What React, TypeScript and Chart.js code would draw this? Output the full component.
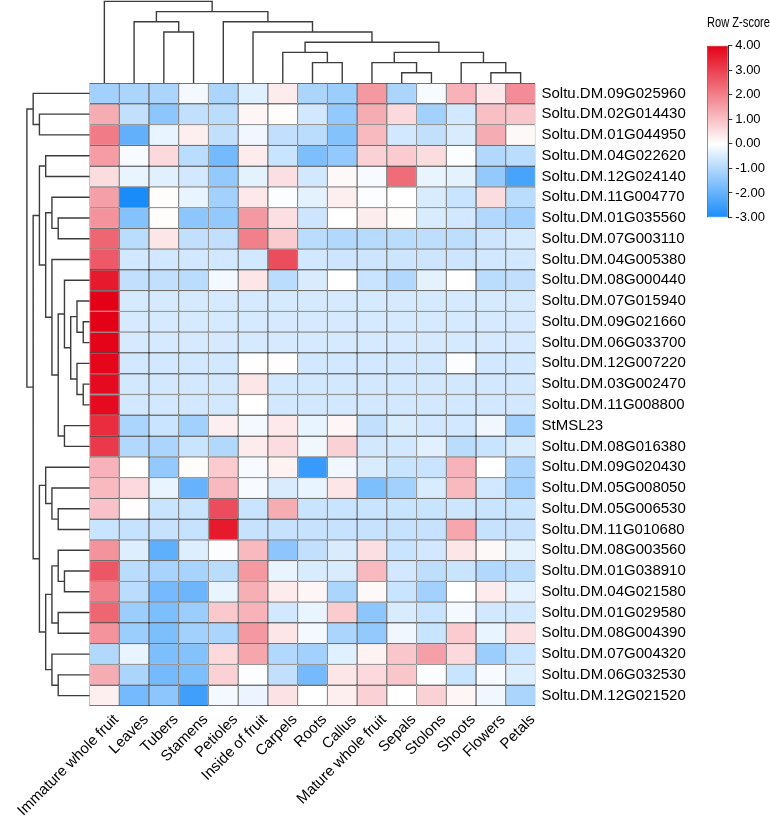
import React, { useEffect, useRef } from 'react';
import { Chart, registerables } from 'chart.js';

Chart.register(...registerables);

// ---------------- data ----------------
const colLabels = [
  'Immature whole fruit', 'Leaves', 'Tubers', 'Stamens', 'Petioles', 'Inside of fruit', 'Carpels',
  'Roots', 'Callus', 'Mature whole fruit', 'Sepals', 'Stolons', 'Shoots', 'Flowers', 'Petals',
];

const rowLabels = [
  'Soltu.DM.09G025960', 'Soltu.DM.02G014430', 'Soltu.DM.01G044950', 'Soltu.DM.04G022620',
  'Soltu.DM.12G024140', 'Soltu.DM.11G004770', 'Soltu.DM.01G035560', 'Soltu.DM.07G003110',
  'Soltu.DM.04G005380', 'Soltu.DM.08G000440', 'Soltu.DM.07G015940', 'Soltu.DM.09G021660',
  'Soltu.DM.06G033700', 'Soltu.DM.12G007220', 'Soltu.DM.03G002470', 'Soltu.DM.11G008800',
  'StMSL23', 'Soltu.DM.08G016380', 'Soltu.DM.09G020430', 'Soltu.DM.05G008050',
  'Soltu.DM.05G006530', 'Soltu.DM.11G010680', 'Soltu.DM.08G003560', 'Soltu.DM.01G038910',
  'Soltu.DM.04G021580', 'Soltu.DM.01G029580', 'Soltu.DM.08G004390', 'Soltu.DM.07G004320',
  'Soltu.DM.06G032530', 'Soltu.DM.12G021520',
];

// Row Z-scores, one row per gene, columns in the order of colLabels
const zRows: number[][] = [
  [-1.2, -1.1, -1.1, -0.15, -1.1, -0.4, 0.3, -1.1, -1.3, 1.6, -1.1, -0.1, 1.2, 0.35, 1.8],
  [1.3, -0.8, -1.5, -0.8, -0.9, 0.15, 0.05, -0.6, -1.4, 1.3, 0.6, -1.2, -0.6, 1.0, 0.9],
  [2.05, -2.05, -0.3, 0.25, -0.8, -0.2, -0.8, -0.9, -1.6, 1.1, -0.6, -0.8, -0.5, 1.3, 0.1],
  [1.55, -0.1, 0.6, -0.9, -1.8, 0.3, -0.7, -1.7, -1.4, 0.7, 0.8, 0.55, -0.05, -1.0, -0.9],
  [0.55, -0.3, -0.4, -0.6, -1.4, -0.35, 0.5, -0.6, 0.1, -0.1, 2.3, -0.3, -0.35, -1.4, -2.4],
  [1.5, -3.0, 0.05, -0.3, -1.2, 0.35, -0.05, -0.35, 0.25, -0.05, 0.0, -0.5, -0.7, 0.55, -0.9],
  [1.7, -1.6, 0.05, -1.5, -1.4, 1.6, 0.5, -0.65, 0.0, 0.3, 0.05, -0.5, -0.6, -1.0, -1.2],
  [2.4, -0.9, 0.4, -0.8, -0.8, 2.0, 0.8, -0.9, -1.0, -0.95, -0.9, -0.85, -0.85, -0.65, -0.55],
  [2.6, -0.6, -0.6, -0.6, -0.6, -0.6, 2.8, -0.6, -0.65, -0.65, -0.65, -0.65, -0.65, -0.6, -0.6],
  [3.6, -0.8, -0.8, -0.9, -0.15, 0.4, -0.9, -0.5, 0.0, -0.7, -1.0, -0.35, 0.0, -0.9, -0.8],
  [4.0, -0.55, -0.55, -0.55, -0.55, -0.55, -0.55, -0.55, -0.55, -0.55, -0.55, -0.55, -0.55, -0.55, -0.55],
  [4.0, -0.55, -0.55, -0.55, -0.55, -0.55, -0.55, -0.55, -0.55, -0.55, -0.55, -0.55, -0.55, -0.55, -0.55],
  [3.95, -0.55, -0.55, -0.55, -0.55, -0.55, -0.55, -0.55, -0.55, -0.55, -0.55, -0.55, -0.55, -0.55, -0.55],
  [3.9, -0.6, -0.6, -0.6, -0.6, 0.02, 0.03, -0.6, -0.6, -0.6, -0.6, -0.6, -0.05, -0.6, -0.6],
  [3.85, -0.6, -0.6, -0.6, -0.6, 0.4, -0.6, -0.6, -0.6, -0.6, -0.6, -0.6, -0.6, -0.6, -0.6],
  [3.85, -0.6, -0.6, -0.6, -0.6, 0.0, -0.6, -0.6, -0.6, -0.6, -0.6, -0.6, -0.6, -0.6, -0.6],
  [3.3, -1.1, -0.7, -1.2, 0.25, -0.15, 0.35, -0.3, 0.15, -0.8, -0.5, -0.6, -0.6, -0.2, -1.2],
  [3.1, -1.0, -1.1, -0.7, -1.0, 0.3, 0.55, -0.2, 0.7, -0.6, -0.6, -0.4, -0.9, -0.7, -0.5],
  [1.2, 0.0, -1.4, 0.05, 0.8, -0.1, 0.2, -2.6, -0.2, -0.5, -0.7, -0.7, 1.2, 0.0, -1.1],
  [1.1, 0.6, -0.3, -2.0, 1.1, -0.1, -0.5, -0.3, 0.4, -1.7, -1.2, -0.5, 1.1, -0.6, -1.2],
  [0.95, 0.03, -0.7, -0.7, 2.8, -0.7, 1.3, -0.7, -0.7, -0.7, -0.7, -0.7, -0.65, -0.7, -0.7],
  [-0.7, -0.75, -0.75, -0.75, 3.6, -0.75, -0.75, -0.75, -0.75, -0.75, -0.75, -0.75, 1.4, -0.75, -0.75],
  [1.7, -0.45, -2.1, -0.45, -0.05, 1.1, -1.5, -0.8, -0.5, 0.5, -0.7, -0.6, 0.4, 0.1, -0.35],
  [2.65, -0.9, -1.15, -1.15, -0.9, 1.6, -0.3, -0.5, -0.5, 1.1, -0.6, -0.85, -0.7, -1.0, -0.9],
  [2.0, -0.9, -1.8, -1.9, -0.3, 1.25, 0.3, 0.15, -1.1, 0.1, -0.7, -1.2, 0.0, 0.3, -0.35],
  [2.4, -1.3, -1.7, -1.3, 0.85, 1.2, -0.6, -0.3, 0.8, -1.5, -0.5, -0.7, -0.15, -0.6, -0.6],
  [1.7, -1.3, -1.7, -1.2, -1.1, 1.6, 0.4, -0.15, -1.1, -1.4, -0.2, -0.7, 0.8, -0.3, 0.5],
  [-1.0, -0.3, -1.7, -1.6, 0.6, 1.4, -1.0, -1.2, -0.4, 0.2, 0.9, 1.5, 0.6, -1.3, -0.7],
  [1.3, -1.1, -1.8, -1.7, 0.7, -0.05, -0.8, -1.8, 0.4, 0.6, 0.9, -0.05, -0.7, -0.1, -0.45],
  [0.25, -1.8, -1.5, -2.5, -0.15, -0.25, 0.45, 0.0, 0.25, 0.7, 0.0, 0.7, 0.15, -0.2, -1.1],
];

// Column dendrogram: [childA, childB, level]; leaves 0..14, new clusters numbered from 15
const colMerges: [number, number, number][] = [
  [13, 14, 1], [10, 11, 1], [12, 15, 2], [9, 16, 2], [7, 8, 2], [6, 19, 3], [18, 17, 3],
  [20, 21, 4], [5, 22, 5], [2, 3, 5], [4, 23, 6], [1, 24, 6], [26, 25, 7], [0, 27, 8],
];

// Row dendrogram: [childA, childB, level]; leaves 0..29, new clusters numbered from 30
const rowMerges: [number, number, number][] = [
  [11, 12, 1], [14, 15, 1], [10, 30, 2], [13, 31, 2], [32, 33, 3], [9, 34, 4], [16, 17, 4],
  [35, 36, 5], [8, 37, 6], [6, 7, 5], [5, 39, 6], [40, 38, 7], [3, 4, 7], [42, 41, 8],
  [20, 21, 5], [19, 44, 6], [18, 45, 7], [23, 24, 4], [22, 47, 5], [25, 26, 5], [48, 49, 6],
  [28, 29, 5], [27, 51, 6], [50, 52, 7], [46, 53, 8], [43, 54, 9], [1, 2, 8], [0, 56, 9],
  [57, 55, 10],
];

const zMin = -3;
const zMax = 4;
const colorbarStep = 1;

// ---------------- style / layout ----------------
const W = 770;
const H = 824;
const HM = { left: 89.5, right: 535.5, top: 83, bottom: 706 };
const AREA_LEFT = 16;
const AREA_TOP = 0;
const LEFT_LEVEL_PX = 6.26;
const TOP_LEVEL_PX = 10.2;
const FONT = "'Liberation Sans', Arial, Helvetica, sans-serif";
const BLUE = [25, 140, 250];
const WHITE = [255, 255, 255];
const RED = [228, 0, 22];
const LINE_COLOR = '#3c3c3c';

const nCols = colLabels.length;
const nRows = rowLabels.length;
const colW = (HM.right - HM.left) / nCols;
const rowH = (HM.bottom - HM.top) / nRows;
const xRange = { min: -(HM.left - AREA_LEFT) / colW, max: nCols };
const yRange = { min: -(HM.top - AREA_TOP) / rowH, max: nRows };

function zColor(v: number): string {
  const t = v < 0 ? Math.min(1, -v / -zMin) : Math.min(1, v / zMax);
  const end = v < 0 ? BLUE : RED;
  const c = WHITE.map((w, i) => Math.round(w + (end[i] - w) * t));
  return `rgb(${c[0]},${c[1]},${c[2]})`;
}

function buildDendro(merges: [number, number, number][], nLeaves: number, orient: 'top' | 'left') {
  const pos: number[] = Array.from({ length: nLeaves }, (_, i) => i + 0.5);
  const lvl: number[] = new Array(nLeaves).fill(0);
  const pts: { x: number | null; y: number | null }[] = [];
  merges.forEach(([a, b, h]) => {
    const seg: [number, number][] = [[pos[a], lvl[a]], [pos[a], h], [pos[b], h], [pos[b], lvl[b]]];
    seg.forEach(([p, l]) => pts.push(orient === 'top' ? { x: p, y: l } : { x: l, y: p }));
    pts.push({ x: null, y: null });
    pos.push((pos[a] + pos[b]) / 2);
    lvl.push(h);
  });
  return pts;
}

function zeroPad(s: any) {
  s.paddingLeft = 0;
  s.paddingRight = 0;
  s.paddingTop = 0;
  s.paddingBottom = 0;
}

export default function App() {
  const mainRef = useRef<HTMLCanvasElement>(null);
  const cbRef = useRef<HTMLCanvasElement>(null);

  useEffect(() => {
    const cells: { x: number; y: [number, number] }[] = [];
    const colors: string[] = [];
    zRows.forEach((row, r) => {
      row.forEach((v, c) => {
        cells.push({ x: c + 0.5, y: [r, r + 1] });
        colors.push(zColor(v));
      });
    });

    const main = new Chart(mainRef.current as HTMLCanvasElement, {
      type: 'bar',
      data: {
        datasets: [
          {
            type: 'bar',
            data: cells as any,
            backgroundColor: colors,
            borderColor: '#111',
            borderWidth: 0.65,
            borderSkipped: false,
            inflateAmount: 0,
            categoryPercentage: 1,
            barPercentage: 1,
            grouped: false,
            xAxisID: 'x',
            yAxisID: 'y',
          } as any,
          {
            type: 'line',
            data: buildDendro(colMerges, nCols, 'top') as any,
            borderColor: LINE_COLOR,
            borderWidth: 1.4,
            pointRadius: 0,
            spanGaps: false,
            tension: 0,
            fill: false,
            xAxisID: 'xt',
            yAxisID: 'yd',
          } as any,
          {
            type: 'line',
            data: buildDendro(rowMerges, nRows, 'left') as any,
            borderColor: LINE_COLOR,
            borderWidth: 1.4,
            pointRadius: 0,
            spanGaps: false,
            tension: 0,
            fill: false,
            xAxisID: 'xd',
            yAxisID: 'yl',
          } as any,
        ],
      },
      options: {
        responsive: false,
        animation: false,
        devicePixelRatio: 1,
        events: [],
        layout: { padding: { left: AREA_LEFT, top: AREA_TOP, right: 0, bottom: 0 }, autoPadding: false } as any,
        plugins: { legend: { display: false }, tooltip: { enabled: false } },
        scales: {
          x: {
            type: 'linear',
            position: 'bottom',
            min: xRange.min,
            max: xRange.max,
            offset: false,
            bounds: 'data',
            grid: { display: false, drawTicks: false },
            border: { display: false },
            ticks: {
              autoSkip: false,
              minRotation: 45,
              maxRotation: 45,
              padding: 5,
              labelOffset: 12,
              color: '#000',
              font: { family: FONT, size: 15 },
              callback: (_v: any, i: number) => colLabels[i],
            },
            afterBuildTicks: (s: any) => {
              s.ticks = colLabels.map((_, i) => ({ value: i + 0.5 }));
            },
            afterFit: (s: any) => {
              s.height = H - HM.bottom;
              zeroPad(s);
            },
          } as any,
          y: {
            type: 'linear',
            position: 'right',
            reverse: true,
            min: yRange.min,
            max: yRange.max,
            bounds: 'data',
            beginAtZero: false,
            grid: { display: false, drawTicks: false },
            border: { display: false },
            ticks: {
              autoSkip: false,
              padding: 6,
              color: '#000',
              font: { family: FONT, size: 15 },
              callback: (_v: any, i: number) => rowLabels[i],
            },
            afterBuildTicks: (s: any) => {
              s.ticks = rowLabels.map((_, i) => ({ value: i + 0.5 }));
            },
            afterFit: (s: any) => {
              s.width = W - HM.right;
              zeroPad(s);
            },
          } as any,
          xt: {
            type: 'linear',
            display: false,
            position: 'bottom',
            offset: false,
            bounds: 'data',
            min: xRange.min,
            max: xRange.max,
          } as any,
          yl: {
            type: 'linear',
            display: false,
            position: 'right',
            reverse: true,
            bounds: 'data',
            beginAtZero: false,
            min: yRange.min,
            max: yRange.max,
          } as any,
          xd: {
            type: 'linear',
            display: false,
            position: 'bottom',
            reverse: true,
            offset: false,
            bounds: 'data',
            min: -(HM.right - HM.left) / LEFT_LEVEL_PX,
            max: (HM.left - AREA_LEFT) / LEFT_LEVEL_PX,
          } as any,
          yd: {
            type: 'linear',
            display: false,
            position: 'left',
            bounds: 'data',
            beginAtZero: false,
            min: -(HM.bottom - HM.top) / TOP_LEVEL_PX,
            max: (HM.top - AREA_TOP) / TOP_LEVEL_PX,
          } as any,
        },
      },
    });

    const cbW = 80;
    const cbPadLeft = 17;
    const cbBarW = 21.3;
    const cb = new Chart(cbRef.current as HTMLCanvasElement, {
      type: 'bar',
      data: {
        labels: [''],
        datasets: [
          {
            data: [[zMin, zMax]] as any,
            backgroundColor: (ctx: any) => {
              const chart = ctx.chart;
              const ys = chart.scales.y;
              if (!chart.chartArea || !ys) return '#fff';
              const g = chart.ctx.createLinearGradient(0, ys.getPixelForValue(zMin), 0, ys.getPixelForValue(zMax));
              g.addColorStop(0, zColor(zMin));
              g.addColorStop(-zMin / (zMax - zMin), zColor(0));
              g.addColorStop(1, zColor(zMax));
              return g;
            },
            borderColor: '#555',
            borderWidth: 0.8,
            borderSkipped: false,
            inflateAmount: 0,
            categoryPercentage: 1,
            barPercentage: 1,
          } as any,
        ],
      },
      options: {
        responsive: false,
        animation: false,
        devicePixelRatio: 1,
        events: [],
        layout: { padding: { left: cbPadLeft, right: 0, top: 0, bottom: 22.5 }, autoPadding: false } as any,
        plugins: {
          legend: { display: false },
          tooltip: { enabled: false },
          title: {
            display: true,
            text: 'Row Z-score',
            color: '#000',
            font: { family: FONT, size: 14, weight: 'normal' },
            padding: { top: 14.6, bottom: 14.1 },
          },
        },
        scales: {
          x: { display: false, offset: true } as any,
          y: {
            type: 'linear',
            position: 'right',
            min: zMin,
            max: zMax,
            bounds: 'data',
            beginAtZero: false,
            grid: { display: true, drawOnChartArea: false, drawTicks: true, tickLength: 4, color: '#333', lineWidth: 1 },
            border: { display: true, color: '#333', width: 1 },
            ticks: {
              stepSize: colorbarStep,
              padding: 3,
              color: '#000',
              font: { family: FONT, size: 13 },
              callback: (v: any) => Number(v).toFixed(2),
            },
            afterFit: (s: any) => {
              s.width = cbW - cbPadLeft - cbBarW;
              zeroPad(s);
            },
          } as any,
        },
      },
    });

    return () => {
      main.destroy();
      cb.destroy();
    };
  }, []);

  return (
    <div style={{ position: 'absolute', left: 0, top: 0, width: W, height: H, background: '#fff' }}>
      <canvas ref={mainRef} width={W} height={H} style={{ position: 'absolute', left: 0, top: 0, width: W, height: H }} />
      <canvas ref={cbRef} width={80} height={240} style={{ position: 'absolute', left: 690, top: 0, width: 80, height: 240 }} />
    </div>
  );
}
